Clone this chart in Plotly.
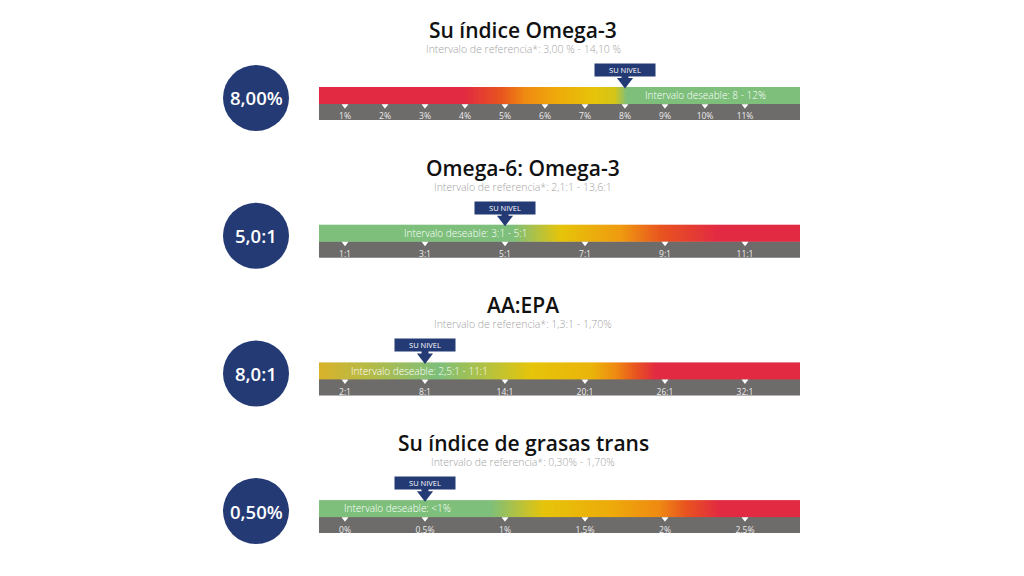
import numpy as np
import plotly.graph_objects as go

# ---------------- data ----------------
titles = ["Su índice Omega-3", "Omega-6: Omega-3", "AA:EPA", "Su índice de grasas trans"]
subtitles = [
    "Intervalo de referencia*: 3,00 % - 14,10 %",
    "Intervalo de referencia*: 2,1:1 - 13,6:1",
    "Intervalo de referencia*: 1,3:1 - 1,70%",
    "Intervalo de referencia*: 0,30% - 1,70%",
]
levels = [8.0, 5.0, 8.0, 0.5]
level_labels = ["8,00%", "5,0:1", "8,0:1", "0,50%"]
desirable_labels = [
    "Intervalo deseable: 8 - 12%",
    "Intervalo deseable: 3:1 - 5:1",
    "Intervalo deseable: 2,5:1 - 11:1",
    "Intervalo deseable: <1%",
]
desirable_ranges = [[8, 12], [3, 5], [2.5, 11], [0, 1]]

tick_values = [
    [1, 2, 3, 4, 5, 6, 7, 8, 9, 10, 11],
    [1, 3, 5, 7, 9, 11],
    [2, 8, 14, 20, 26, 32],
    [0, 0.5, 1, 1.5, 2, 2.5],
]
tick_labels = [
    ["1%", "2%", "3%", "4%", "5%", "6%", "7%", "8%", "9%", "10%", "11%"],
    ["1:1", "3:1", "5:1", "7:1", "9:1", "11:1"],
    ["2:1", "8:1", "14:1", "20:1", "26:1", "32:1"],
    ["0%", "0.5%", "1%", "1.5%", "2%", "2.5%"],
]
axis_ranges = [[0.35, 12.375], [0.35, 12.375], [0.05, 36.125], [-0.1625, 2.84375]]

RED, ORR, ORA, YOR, YEL, GRN = "#e22a42", "#e8541f", "#ef8a12", "#eeaa0a", "#e6c40a", "#7dbf7b"
gradient_values = [
    [0.35, 3.98, 4.9, 5.5, 6.3, 7.25, 7.75, 8.05, 12.375],
    [0.35, 5.2, 6.4, 7.9, 8.9, 10.3, 12.375],
    [0.05, 4.0, 9.0, 16.0, 20.5, 22.3, 23.8, 25.3, 36.125],
    [-0.1625, 0.906, 1.244, 1.67, 1.96, 2.13, 2.34, 2.84375],
]
gradient_colors = [
    [RED, RED, ORR, ORA, YOR, YEL, "#d4c518", GRN, GRN],
    [GRN, GRN, YEL, "#ef9a10", ORR, RED, RED],
    ["#d8b22a", "#b3bb48", GRN, YEL, "#eab40a", ORA, ORR, RED, RED],
    [GRN, GRN, YEL, YOR, ORA, ORR, RED, RED],
]

# ---------------- style ----------------
OFF = 8                      # page body margin
W, H = 1024 - 2 * OFF, 576 - 2 * OFF
NAVY = "#243a75"
GRAY = "#6e6b6b"
FONT = "Open Sans"
BAR_L, BAR_R = 319, 800
STEP = 137.7
BAR_TOP0 = 87
BAR_H = 33
UNIT = BAR_H / 2             # pixels per y unit
Y_TOP = 2.7                  # axis headroom for the level pointer
Y_BOT = -0.25                # lowers the inside tick labels a little
CIRCLE_X, CIRCLE_Y0, CIRCLE_R = 256, 98, 33
TITLE_X = 523
label_anchor = ["center", "center", "left", "left"]
label_shift = [0, 0, -3, -3]


def px(x):
    return (x - OFF) / W


def py(y):
    return 1 - (y - OFF) / H


fig = go.Figure()
shapes, annotations = [], []

for i in range(4):
    ax = "" if i == 0 else str(i + 1)
    xa, ya = "x" + ax, "y" + ax
    bar_bottom = BAR_TOP0 + STEP * i + BAR_H
    bot = bar_bottom - Y_BOT * UNIT
    top = bar_bottom - Y_TOP * UNIT
    lo, hi = axis_ranges[i]

    # gradient band
    edges = np.linspace(lo, hi, 601)
    centers = (edges[:-1] + edges[1:]) / 2
    cs = [[(v - lo) / (hi - lo), c] for v, c in zip(gradient_values[i], gradient_colors[i])]
    fig.add_trace(go.Heatmap(
        x=edges, y=[1, 2], z=[centers], zmin=lo, zmax=hi, colorscale=cs,
        showscale=False, hoverinfo="skip", xaxis=xa, yaxis=ya,
    ))
    # tick triangles
    fig.add_trace(go.Scatter(
        x=tick_values[i], y=[0.87] * len(tick_values[i]), mode="markers",
        marker=dict(symbol="triangle-down", size=6, color="white"),
        hoverinfo="skip", showlegend=False, cliponaxis=False, xaxis=xa, yaxis=ya,
    ))
    # level pointer (stem + head)
    fig.add_trace(go.Scatter(
        x=[levels[i]], y=[2.5], mode="markers",
        marker=dict(symbol="square", size=7, color=NAVY, line=dict(width=0)),
        hoverinfo="skip", showlegend=False, cliponaxis=False, xaxis=xa, yaxis=ya,
    ))
    fig.add_trace(go.Scatter(
        x=[levels[i]], y=[2.33], mode="markers",
        marker=dict(symbol="triangle-down", size=14, color=NAVY, line=dict(width=0)),
        hoverinfo="skip", showlegend=False, cliponaxis=False, xaxis=xa, yaxis=ya,
    ))

    fig.update_layout({
        "xaxis" + ax: dict(
            domain=[px(BAR_L), px(BAR_R)], range=[lo, hi], anchor=ya,
            tickvals=tick_values[i], ticktext=tick_labels[i],
            ticklabelposition="inside", ticks="", showgrid=False, zeroline=False,
            showline=False, tickfont=dict(family=FONT, size=8.5, color="#ececec"),
            fixedrange=True,
        ),
        "yaxis" + ax: dict(
            domain=[py(bot), py(top)], range=[Y_BOT, Y_TOP], anchor=xa,
            visible=False, fixedrange=True,
        ),
    })

    # gray band
    shapes.append(dict(type="rect", xref=xa + " domain", yref=ya, x0=0, x1=1, y0=0, y1=1,
                       fillcolor=GRAY, line=dict(width=0), layer="below"))
    # value badge
    cy = CIRCLE_Y0 + STEP * i
    shapes.append(dict(type="circle", xref="paper", yref="paper",
                       xsizemode="pixel", ysizemode="pixel",
                       xanchor=px(CIRCLE_X), yanchor=py(cy),
                       x0=-CIRCLE_R, x1=CIRCLE_R, y0=-CIRCLE_R, y1=CIRCLE_R,
                       fillcolor=NAVY, line=dict(width=0)))
    annotations.append(dict(text=level_labels[i], xref="paper", yref="paper",
                            x=px(CIRCLE_X), y=py(cy), xanchor="center", yanchor="middle",
                            showarrow=False,
                            font=dict(family=FONT, size=18.5, color="white", weight=600)))
    # titles
    annotations.append(dict(text=titles[i], xref="paper", yref="paper",
                            x=px(TITLE_X), y=py(30 + STEP * i), xanchor="center",
                            yanchor="middle", showarrow=False,
                            font=dict(family=FONT, size=21, color="#111111", weight=600)))
    annotations.append(dict(text=subtitles[i], xref="paper", yref="paper",
                            x=px(TITLE_X), y=py(49 + STEP * i), xanchor="center",
                            yanchor="middle", showarrow=False,
                            font=dict(family=FONT, size=10.5, color="#a3a3a3", weight=300)))
    # desirable range label
    dlo, dhi = desirable_ranges[i]
    lx = (dlo + dhi) / 2 if label_anchor[i] == "center" else dlo
    annotations.append(dict(text=desirable_labels[i], xref=xa, yref=ya, x=lx, y=1.5,
                            xanchor=label_anchor[i], yanchor="middle", xshift=label_shift[i],
                            showarrow=False,
                            font=dict(family=FONT, size=10, color="white", weight=300)))
    # level marker box
    annotations.append(dict(text="SU NIVEL", xref=xa, yref=ya, x=levels[i], y=2,
                            xanchor="center", yanchor="bottom", yshift=10,
                            showarrow=False, bgcolor=NAVY, borderpad=2, width=56, height=8,
                            font=dict(family=FONT, size=7.5, color="white")))

fig.update_layout(
    width=W, height=H, margin=dict(l=0, r=0, t=0, b=0),
    paper_bgcolor="white", plot_bgcolor="rgba(0,0,0,0)",
    showlegend=False, shapes=shapes, annotations=annotations,
)

fig.write_html("out.html")
